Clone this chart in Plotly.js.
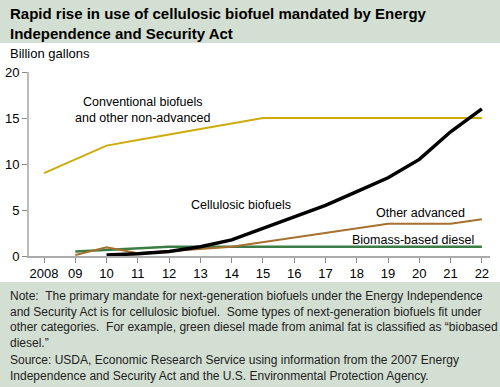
<!DOCTYPE html>
<html><head><meta charset="utf-8">
<script src="https://cdn.plot.ly/plotly-3.0.1.min.js"></script>
<style>html,body{margin:0;padding:0;background:#fff}#c{width:500px;height:387px}</style>
</head><body><div id="c"></div>
<script>
const years = [2008,2009,2010,2011,2012,2013,2014,2015,2016,2017,2018,2019,2020,2021,2022];
const tickLabels = ["2008","09","10","11","12","13","14","15","16","17","18","19","20","21","22"];
const conventional = [9,10.5,12,12.6,13.2,13.8,14.4,15,15,15,15,15,15,15,15];
const cellulosicYears = [2010,2011,2012,2013,2014,2015,2016,2017,2018,2019,2020,2021,2022];
const cellulosic = [0.1,0.25,0.5,1.0,1.75,3.0,4.25,5.5,7.0,8.5,10.5,13.5,16];
const advYears = [2009,2010,2011,2012,2013,2014,2015,2016,2017,2018,2019,2020,2021,2022];
const otherAdvanced = [0.1,0.95,0.3,0.5,0.75,1.0,1.5,2.0,2.5,3.0,3.5,3.5,3.5,4.0];
const biomassDiesel = [0.5,0.65,0.8,1.0,1.0,1.0,1.0,1.0,1.0,1.0,1.0,1.0,1.0,1.0];

const W=500,H=387,L=29,R=10,T=72,B=131;
const pw=W-L-R, ph=H-T-B;
const px=x=>(x-L)/pw, py=y=>(H-B-y)/ph;
const F="Liberation Sans, Arial, sans-serif";
const band="#d3dfd2";

const traces=[
 {x:years,y:conventional,mode:'lines',line:{color:'#cdab0a',width:2}},
 {x:advYears,y:biomassDiesel,mode:'lines',line:{color:'#3b7d45',width:2.5}},
 {x:advYears,y:otherAdvanced,mode:'lines',line:{color:'#a8702f',width:2}},
 {x:cellulosicYears,y:cellulosic,mode:'lines',line:{color:'#000',width:3.5}}
];
const ann=(x,y,t,o)=>Object.assign({x:x,y:y,text:t,showarrow:false,font:{family:F,size:12.5,color:'#000'}},o||{});
const layout={
 width:W,height:H,margin:{l:L,r:R,t:T,b:B},paper_bgcolor:'#fff',plot_bgcolor:'#fff',showlegend:false,
 font:{family:F,color:'#000'},
 xaxis:{range:[2007.52,2022.26],tickvals:years,ticktext:tickLabels,showgrid:false,zeroline:false,
   showline:true,linecolor:'#aaa',linewidth:1.5,ticks:'outside',ticklen:5,tickcolor:'#888',tickfont:{size:13,family:F}},
 yaxis:{range:[0,20],tickvals:[0,5,10,15,20],showgrid:false,zeroline:false,showline:true,linecolor:'#bbb',linewidth:2,
   ticks:'outside',ticklen:5,tickcolor:'#888',tickfont:{size:13,family:F}},
 shapes:[
  {type:'rect',xref:'paper',yref:'paper',x0:px(0),x1:px(W),y0:py(43),y1:py(0),fillcolor:band,line:{width:0},layer:'below'},
  {type:'rect',xref:'paper',yref:'paper',x0:px(0),x1:px(W),y0:py(H),y1:py(282),fillcolor:band,line:{width:0},layer:'below'}
 ],
 annotations:[
  ann(px(8),py(23),'<b>Rapid rise in use of cellulosic biofuel mandated by Energy<br>Independence and Security Act</b>',{xref:'paper',yref:'paper',xanchor:'left',yanchor:'middle',align:'left',font:{family:F,size:15,color:'#000'}}),
  ann(px(8),py(53),'Billion gallons',{xref:'paper',yref:'paper',xanchor:'left',yanchor:'middle',font:{family:F,size:13,color:'#000'}}),
  ann(2011.18,15.9,'Conventional biofuels<br>and other non-advanced'),
  ann(2014.31,5.54,'Cellulosic biofuels'),
  ann(2020.04,4.67,'Other advanced'),
  ann(2019.79,1.74,'Biomass-based diesel'),
  ann(px(8),py(319),'Note:  The primary mandate for next-generation biofuels under the Energy Independence<br>and Security Act is for cellulosic biofuel.  Some types of next-generation biofuels fit under<br>other categories.  For example, green diesel made from animal fat is classified as \u201cbiobased<br>diesel.\u201d',
    {xref:'paper',yref:'paper',xanchor:'left',yanchor:'middle',align:'left',font:{family:F,size:12,color:'#222'}}),
  ann(px(8),py(368),'Source: USDA, Economic Research Service using information from the 2007 Energy<br>Independence and Security Act and the U.S. Environmental Protection Agency.',
    {xref:'paper',yref:'paper',xanchor:'left',yanchor:'middle',align:'left',font:{family:F,size:12,color:'#222'}})
 ]
};
Plotly.newPlot('c',traces,layout,{staticPlot:true,displayModeBar:false});
</script></body></html>
